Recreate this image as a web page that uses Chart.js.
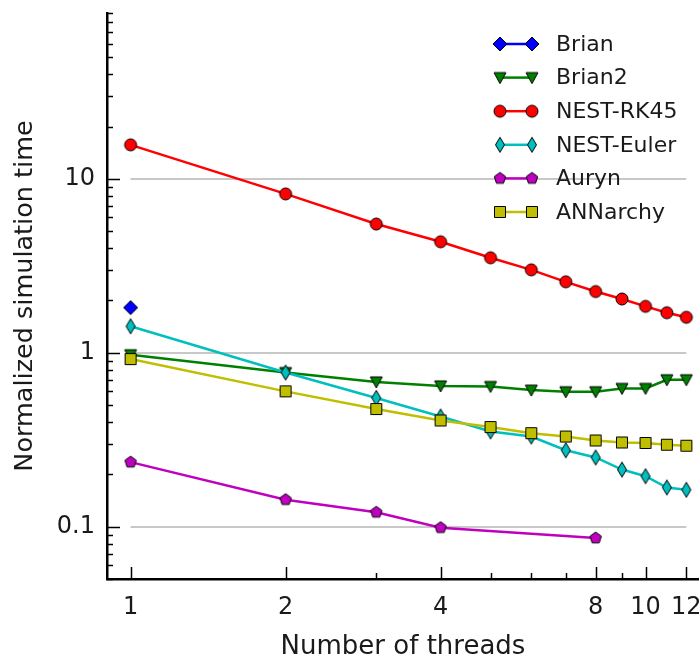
<!DOCTYPE html>
<html>
<head>
<meta charset="utf-8">
<script src="https://cdn.jsdelivr.net/npm/chart.js@4/dist/chart.umd.min.js"></script>
<style>
  html, body { margin: 0; padding: 0; background: #fff; }
  #wrap { width: 699px; height: 657px; position: relative; }
</style>
</head>
<body>
<div id="wrap"><canvas id="chart"></canvas></div>
<script>
// thread counts on the x axis
const threads = [1, 2, 3, 4, 5, 6, 7, 8, 9, 10, 11, 12];

// normalized simulation time per simulator (null = not measured)
const brian     = [1.82, null, null, null, null, null, null, null, null, null, null, null];
const brian2    = [0.975, 0.77, 0.68, 0.645, 0.64, 0.61, 0.597, 0.597, 0.624, 0.624, 0.70, 0.70];
const nestRk45  = [15.7, 8.2, 5.5, 4.35, 3.52, 3.0, 2.56, 2.25, 2.04, 1.85, 1.70, 1.60];
const nestEuler = [1.42, 0.77, 0.55, 0.43, 0.353, 0.33, 0.275, 0.25, 0.213, 0.195, 0.168, 0.163];
const auryn     = [0.235, 0.143, 0.121, 0.0987, null, null, null, 0.086, null, null, null, null];
const annarchy  = [0.92, 0.60, 0.475, 0.408, 0.374, 0.345, 0.33, 0.313, 0.305, 0.303, 0.296, 0.292];

// axis ticks
const xTickLabels = [1, 2, 4, 8, 10, 12];
const xMinorTicks = [3, 5, 6, 7, 9];
const yTickLabels = [0.1, 1, 10];

const FONT = "'DejaVu Sans', 'Liberation Sans', sans-serif";
const TEXT = '#1a1a1a';

// marker images, matplotlib style (black edge)
function makeMarker(shape, fill) {
  const s = 18;
  const c = document.createElement('canvas');
  c.width = s; c.height = s;
  const g = c.getContext('2d');
  const m = s / 2;
  g.beginPath();
  if (shape === 'o') {
    g.arc(m, m, 6, 0, Math.PI * 2);
  } else if (shape === 's') {
    g.rect(m - 5.5, m - 5.5, 11, 11);
  } else if (shape === 'D') {
    g.moveTo(m, m - 7); g.lineTo(m + 7, m); g.lineTo(m, m + 7); g.lineTo(m - 7, m);
  } else if (shape === 'd') {
    g.moveTo(m, m - 7.5); g.lineTo(m + 4.5, m); g.lineTo(m, m + 7.5); g.lineTo(m - 4.5, m);
  } else if (shape === 'v') {
    g.moveTo(m - 6, m - 5); g.lineTo(m + 6, m - 5); g.lineTo(m, m + 6);
  } else if (shape === 'p') {
    for (let k = 0; k < 5; k++) {
      const a = -Math.PI / 2 + k * 2 * Math.PI / 5;
      const px = m + 6 * Math.cos(a), py = m + 6 * Math.sin(a);
      if (k === 0) g.moveTo(px, py); else g.lineTo(px, py);
    }
  }
  g.closePath();
  g.fillStyle = fill;
  g.fill();
  g.lineWidth = 1;
  g.strokeStyle = '#000';
  g.stroke();
  return c;
}

const series = [
  { label: 'Brian',      values: brian,     color: '#0000ff', marker: 'D' },
  { label: 'Brian2',     values: brian2,    color: '#008000', marker: 'v' },
  { label: 'NEST-RK45',  values: nestRk45,  color: '#ff0000', marker: 'o' },
  { label: 'NEST-Euler', values: nestEuler, color: '#00bfbf', marker: 'd' },
  { label: 'Auryn',      values: auryn,     color: '#bf00bf', marker: 'p' },
  { label: 'ANNarchy',   values: annarchy,  color: '#bfbf00', marker: 's' },
];

const datasets = series.map((s, i) => ({
  label: s.label,
  data: threads.map((t, j) => ({ x: t, y: s.values[j] })),
  borderColor: s.color,
  borderWidth: 2.5,
  pointStyle: makeMarker(s.marker, s.color),
  spanGaps: true,
  order: series.length - i, // later series on top, like matplotlib
}));

// light horizontal grid lines from x=1 to x=12 only
const gridPlugin = {
  id: 'gridLines',
  beforeDatasetsDraw(chart) {
    const { ctx, scales: { x, y } } = chart;
    const x0 = x.getPixelForValue(threads[0]);
    const x1 = x.getPixelForValue(threads[threads.length - 1]);
    ctx.save();
    ctx.strokeStyle = '#c8c8c8';
    ctx.lineWidth = 2;
    yTickLabels.forEach(v => {
      const py = Math.round(y.getPixelForValue(v));
      ctx.beginPath();
      ctx.moveTo(x0, py);
      ctx.lineTo(x1, py);
      ctx.stroke();
    });
    ctx.restore();
  },
};

// inward tick marks, major and minor
const ticksPlugin = {
  id: 'inTicks',
  afterDraw(chart) {
    const { ctx, chartArea: a, scales: { x, y } } = chart;
    ctx.save();
    ctx.strokeStyle = '#000';
    ctx.lineWidth = 1.5;
    const line = (x1, y1, x2, y2) => {
      ctx.beginPath(); ctx.moveTo(x1, y1); ctx.lineTo(x2, y2); ctx.stroke();
    };
    xTickLabels.forEach(v => { const px = Math.round(x.getPixelForValue(v)) + 0.5; line(px, a.bottom, px, a.bottom - 12); });
    xMinorTicks.forEach(v => { const px = Math.round(x.getPixelForValue(v)) + 0.5; line(px, a.bottom, px, a.bottom - 6); });
    yTickLabels.forEach(v => { const py = Math.round(y.getPixelForValue(v)) + 0.5; line(a.left, py, a.left + 13, py); });
    for (let dec = 0.01; dec < 100; dec *= 10) {
      for (let k = 2; k <= 9; k++) {
        const v = dec * k;
        if (v < y.min || v > y.max) continue;
        const py = Math.round(y.getPixelForValue(v)) + 0.5;
        line(a.left, py, a.left + 6, py);
      }
    }
    ctx.restore();
  },
};

// legend in the upper right, marker-line-marker like matplotlib
const legendPlugin = {
  id: 'mplLegend',
  afterDraw(chart) {
    const { ctx } = chart;
    const mx0 = 500, mx1 = 532, tx = 556, top = 44, step = 33.6;
    ctx.save();
    ctx.font = '22px ' + FONT;
    ctx.fillStyle = TEXT;
    ctx.textBaseline = 'middle';
    chart.data.datasets.forEach((d, i) => {
      const yy = top + i * step;
      ctx.strokeStyle = d.borderColor;
      ctx.lineWidth = 2.5;
      ctx.beginPath(); ctx.moveTo(mx0, yy); ctx.lineTo(mx1, yy); ctx.stroke();
      const img = d.pointStyle;
      ctx.drawImage(img, mx0 - img.width / 2, yy - img.height / 2);
      ctx.drawImage(img, mx1 - img.width / 2, yy - img.height / 2);
      ctx.fillText(d.label, tx, yy + 1);
    });
    ctx.restore();
  },
};

new Chart(document.getElementById('chart'), {
  type: 'line',
  data: { datasets },
  plugins: [gridPlugin, ticksPlugin, legendPlugin],
  options: {
    responsive: true,
    maintainAspectRatio: false,
    animation: false,
    layout: { autoPadding: false, padding: { top: 13, right: 0, left: 0, bottom: 0 } },
    plugins: {
      legend: { display: false },
      tooltip: { enabled: false },
    },
    scales: {
      x: {
        type: 'logarithmic',
        min: 0.9,
        max: 12.7,
        bounds: 'data',
        grid: { display: false, drawTicks: false },
        border: { display: true, color: '#000', width: 2.5 },
        afterBuildTicks: (scale) => { scale.ticks = xTickLabels.map(v => ({ value: v })); },
        afterFit: (scale) => {
          scale.height = 78;
          scale.paddingLeft = 0; scale.paddingRight = 0;
          scale.paddingTop = 0; scale.paddingBottom = 0;
        },
        ticks: {
          autoSkip: false,
          maxRotation: 0,
          padding: 14,
          color: TEXT,
          font: { family: FONT, size: 24 },
          callback: (v) => String(v),
        },
        title: {
          display: true,
          text: 'Number of threads',
          color: TEXT,
          font: { family: FONT, size: 26 },
          padding: { top: 0, bottom: -6 },
        },
      },
      y: {
        type: 'logarithmic',
        min: 0.05,
        max: 90,
        bounds: 'data',
        grid: { display: false, drawTicks: false },
        border: { display: true, color: '#000', width: 2.5 },
        afterBuildTicks: (scale) => { scale.ticks = yTickLabels.map(v => ({ value: v })); },
        afterFit: (scale) => {
          scale.width = 107;
          scale.paddingLeft = 0; scale.paddingRight = 0;
          scale.paddingTop = 0; scale.paddingBottom = 0;
        },
        ticks: {
          padding: 12,
          color: TEXT,
          font: { family: FONT, size: 24 },
          callback: (v) => String(v),
        },
        title: {
          display: true,
          text: 'Normalized simulation time',
          color: TEXT,
          font: { family: FONT, size: 25.5 },
          padding: { top: 10, bottom: 0 },
        },
      },
    },
  },
});
</script>
</body>
</html>
